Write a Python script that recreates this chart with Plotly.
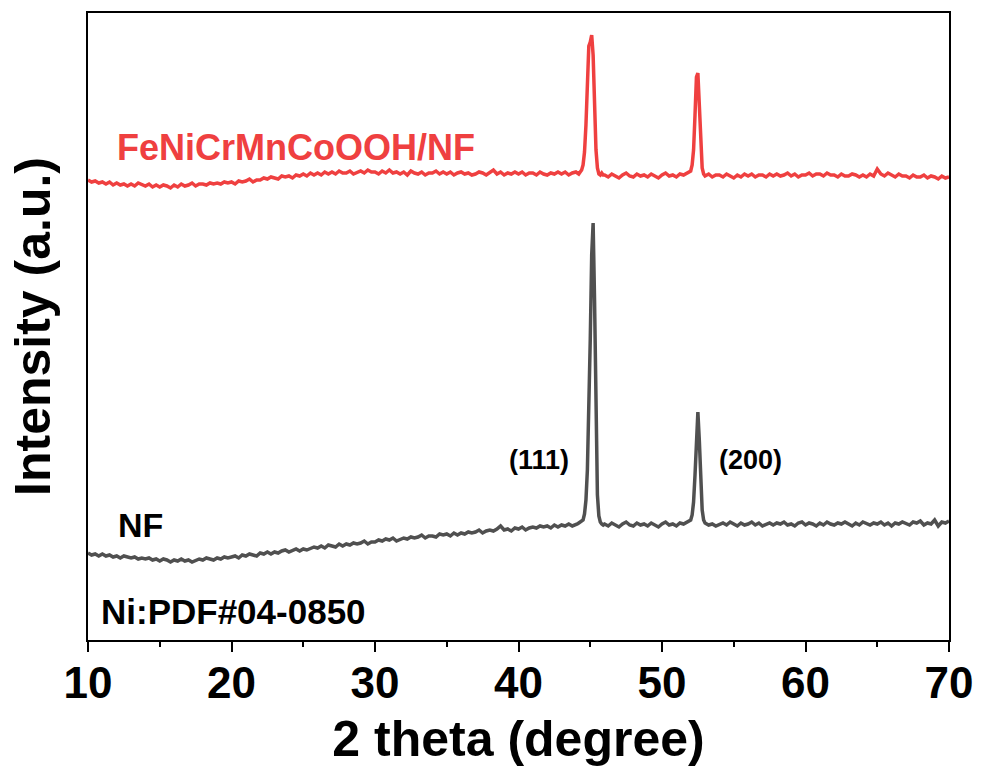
import numpy as np
import plotly.graph_objects as go

# 2-theta sampling grid (degrees): coarse on baseline, fine across the two Ni peaks
two_theta = np.round(np.concatenate([
    np.arange(10.0, 44.0 + 1e-9, 0.25),
    np.arange(44.1, 45.9 + 1e-9, 0.1),
    np.arange(46.0, 52.0 + 1e-9, 0.25),
    np.arange(52.1, 52.9 + 1e-9, 0.1),
    np.arange(53.0, 70.0 + 1e-9, 0.25),
]), 2)

# NF (bare nickel foam), offset intensity (a.u.)
nf_baseline_a = [
    87, 85, 86, 84, 86, 84, 85, 83, 84, 82, 84, 83, 82, 83, 81, 82,
    81, 82, 80, 81, 79, 81, 80, 78, 80, 79, 81, 79, 80, 78, 80, 81,
    80, 82, 81, 80, 82, 81, 83, 82, 83, 84, 82, 85, 84, 86, 85, 84,
    87, 86, 88, 86, 88, 87, 89, 90, 88, 90, 91, 89, 91, 90, 92, 93,
    92, 94, 92, 95, 94, 93, 96, 94, 96, 95, 97, 96, 97, 99, 96, 98,
    98, 100, 99, 101, 100, 102, 99, 101, 102, 101, 103, 102, 103, 105, 102, 104,
    104, 103, 106, 105, 106, 104, 107, 105, 107, 106, 108, 107, 108, 110, 107, 109,
    110, 109, 111, 114, 110, 111, 109, 112, 111, 113, 110, 112, 113, 112, 114, 113,
    114, 112, 115, 113, 115, 114, 116, 114, 115,
]
nf_peak_111 = [116, 117, 118, 119, 120, 126, 140, 170, 225, 300, 385, 417, 340, 210, 145, 124, 118, 116, 115]
nf_baseline_c = [116, 114, 117, 115, 113, 116, 118, 115, 114, 117, 115, 116, 114,
                 117, 115, 113, 116, 118, 115, 116, 114, 117, 116, 118, 120]
nf_peak_200 = [125, 138, 165, 210, 228, 200, 155, 130, 120]
nf_baseline_e = [
    117, 115, 116, 114, 116, 117, 115, 118, 116, 114, 117, 115, 116, 118, 115, 117,
    114, 116, 117, 115, 117, 116, 118, 115, 116, 114, 117, 118, 115, 117, 116, 114,
    117, 115, 118, 116, 115, 117, 116, 118, 116, 114, 117, 115, 118, 116, 115, 117,
    116, 118, 115, 117, 114, 117, 116, 118, 116, 115, 118, 117, 119, 115, 117, 116,
    120, 114, 118, 117, 119,
]
intensity_nf = nf_baseline_a + nf_peak_111 + nf_baseline_c + nf_peak_200 + nf_baseline_e

# FeNiCrMnCoOOH/NF, offset intensity (a.u.)
fe_baseline_a = [
    460, 458, 459, 457, 458, 456, 458, 455, 457, 455, 456, 454, 456, 454, 457, 455,
    454, 456, 453, 455, 453, 455, 454, 452, 455, 453, 456, 454, 455, 457, 454, 456,
    456, 455, 457, 456, 457, 456, 458, 457, 458, 456, 459, 458, 459, 461, 458, 460,
    460, 462, 461, 463, 462, 461, 464, 463, 464, 462, 465, 464, 466, 464, 467, 465,
    467, 465, 468, 466, 468, 466, 469, 467, 467, 469, 466, 468, 469, 467, 470, 468,
    468, 466, 469, 467, 470, 467, 468, 466, 468, 465, 469, 467, 466, 468, 465, 467,
    467, 469, 466, 468, 466, 468, 465, 467, 468, 466, 467, 465, 466, 468, 467, 465,
    467, 470, 466, 468, 465, 467, 466, 468, 466, 468, 465, 467, 467, 465, 468, 466,
    465, 467, 466, 468, 466, 468, 465, 467, 468,
]
fe_peak_111 = [467, 466, 468, 470, 475, 488, 515, 560, 594, 598, 605, 585, 530, 490, 472, 466, 465, 467, 465]
fe_baseline_c = [465, 463, 466, 464, 462, 465, 467, 464, 463, 466, 464, 465, 463,
                 466, 464, 462, 465, 467, 464, 465, 463, 466, 465, 467, 469]
fe_peak_200 = [475, 490, 525, 563, 567, 530, 490, 472, 466]
fe_baseline_e = [
    464, 466, 463, 465, 465, 463, 466, 464, 462, 465, 463, 466, 464, 466, 463, 465,
    465, 463, 466, 464, 466, 464, 465, 467, 464, 466, 463, 465, 465, 467, 464, 466,
    466, 464, 467, 465, 465, 463, 466, 464, 464, 466, 465, 463, 465, 463, 466, 464,
    471, 466, 464, 467, 465, 463, 466, 464, 464, 462, 465, 463, 463, 465, 462, 464,
    463, 461, 464, 462, 463,
]
intensity_fe = fe_baseline_a + fe_peak_111 + fe_baseline_c + fe_peak_200 + fe_baseline_e

x_ticks = [10, 20, 30, 40, 50, 60, 70]

RED = "#EF4040"
GRAY = "#505050"
FONT = "Liberation Sans, Arial, sans-serif"

fig = go.Figure()
fig.add_trace(go.Scatter(x=two_theta, y=intensity_nf, mode="lines",
                         line=dict(color=GRAY, width=3.5), name="NF", showlegend=False))
fig.add_trace(go.Scatter(x=two_theta, y=intensity_fe, mode="lines",
                         line=dict(color=RED, width=3.5), name="FeNiCrMnCoOOH/NF", showlegend=False))

annots = [
    dict(x=11.85, y=493, text="FeNiCrMnCoOOH/NF", color=RED, size=36, xanchor="left"),
    dict(x=11.95, y=115, text="NF", color="black", size=34, xanchor="left"),
    dict(x=10.8, y=29, text="Ni:PDF#04-0850", color="black", size=35, xanchor="left"),
    dict(x=41.4, y=180, text="(111)", color="black", size=27, xanchor="center"),
    dict(x=56.2, y=180, text="(200)", color="black", size=27, xanchor="center"),
]
for a in annots:
    fig.add_annotation(x=a["x"], y=a["y"], xref="x", yref="y", text=a["text"],
                       showarrow=False, xanchor=a["xanchor"], yanchor="middle",
                       font=dict(family=FONT, size=a["size"], color=a["color"], weight="bold"))

fig.update_layout(
    width=981, height=774,
    margin=dict(l=88, r=32, t=13, b=134, autoexpand=False),
    paper_bgcolor="white", plot_bgcolor="white",
    font=dict(family=FONT, color="black"),
)
fig.update_xaxes(
    range=[10, 70], tickvals=x_ticks, ticktext=[str(v) for v in x_ticks],
    ticks="outside", ticklen=10, tickwidth=2, tickcolor="black", ticklabelstandoff=-7,
    minor=dict(ticks="outside", ticklen=5, tickwidth=2, tickcolor="black", dtick=5, tick0=10, showgrid=False),
    showline=True, linewidth=2, linecolor="black", mirror=True, showgrid=False, zeroline=False,
    automargin=False,
    tickfont=dict(family=FONT, size=44, color="black", weight="bold"),
    title=dict(text="2 theta (degree)", font=dict(family=FONT, size=50, color="black", weight="bold"), standoff=15),
)
fig.update_yaxes(
    range=[0, 627], showticklabels=False, ticks="",
    showline=True, linewidth=2, linecolor="black", mirror=True, showgrid=False, zeroline=False,
    automargin=False,
    title=dict(text="Intensity (a.u.)", font=dict(family=FONT, size=50, color="black", weight="bold"), standoff=20),
)

fig.write_html("out.html")
